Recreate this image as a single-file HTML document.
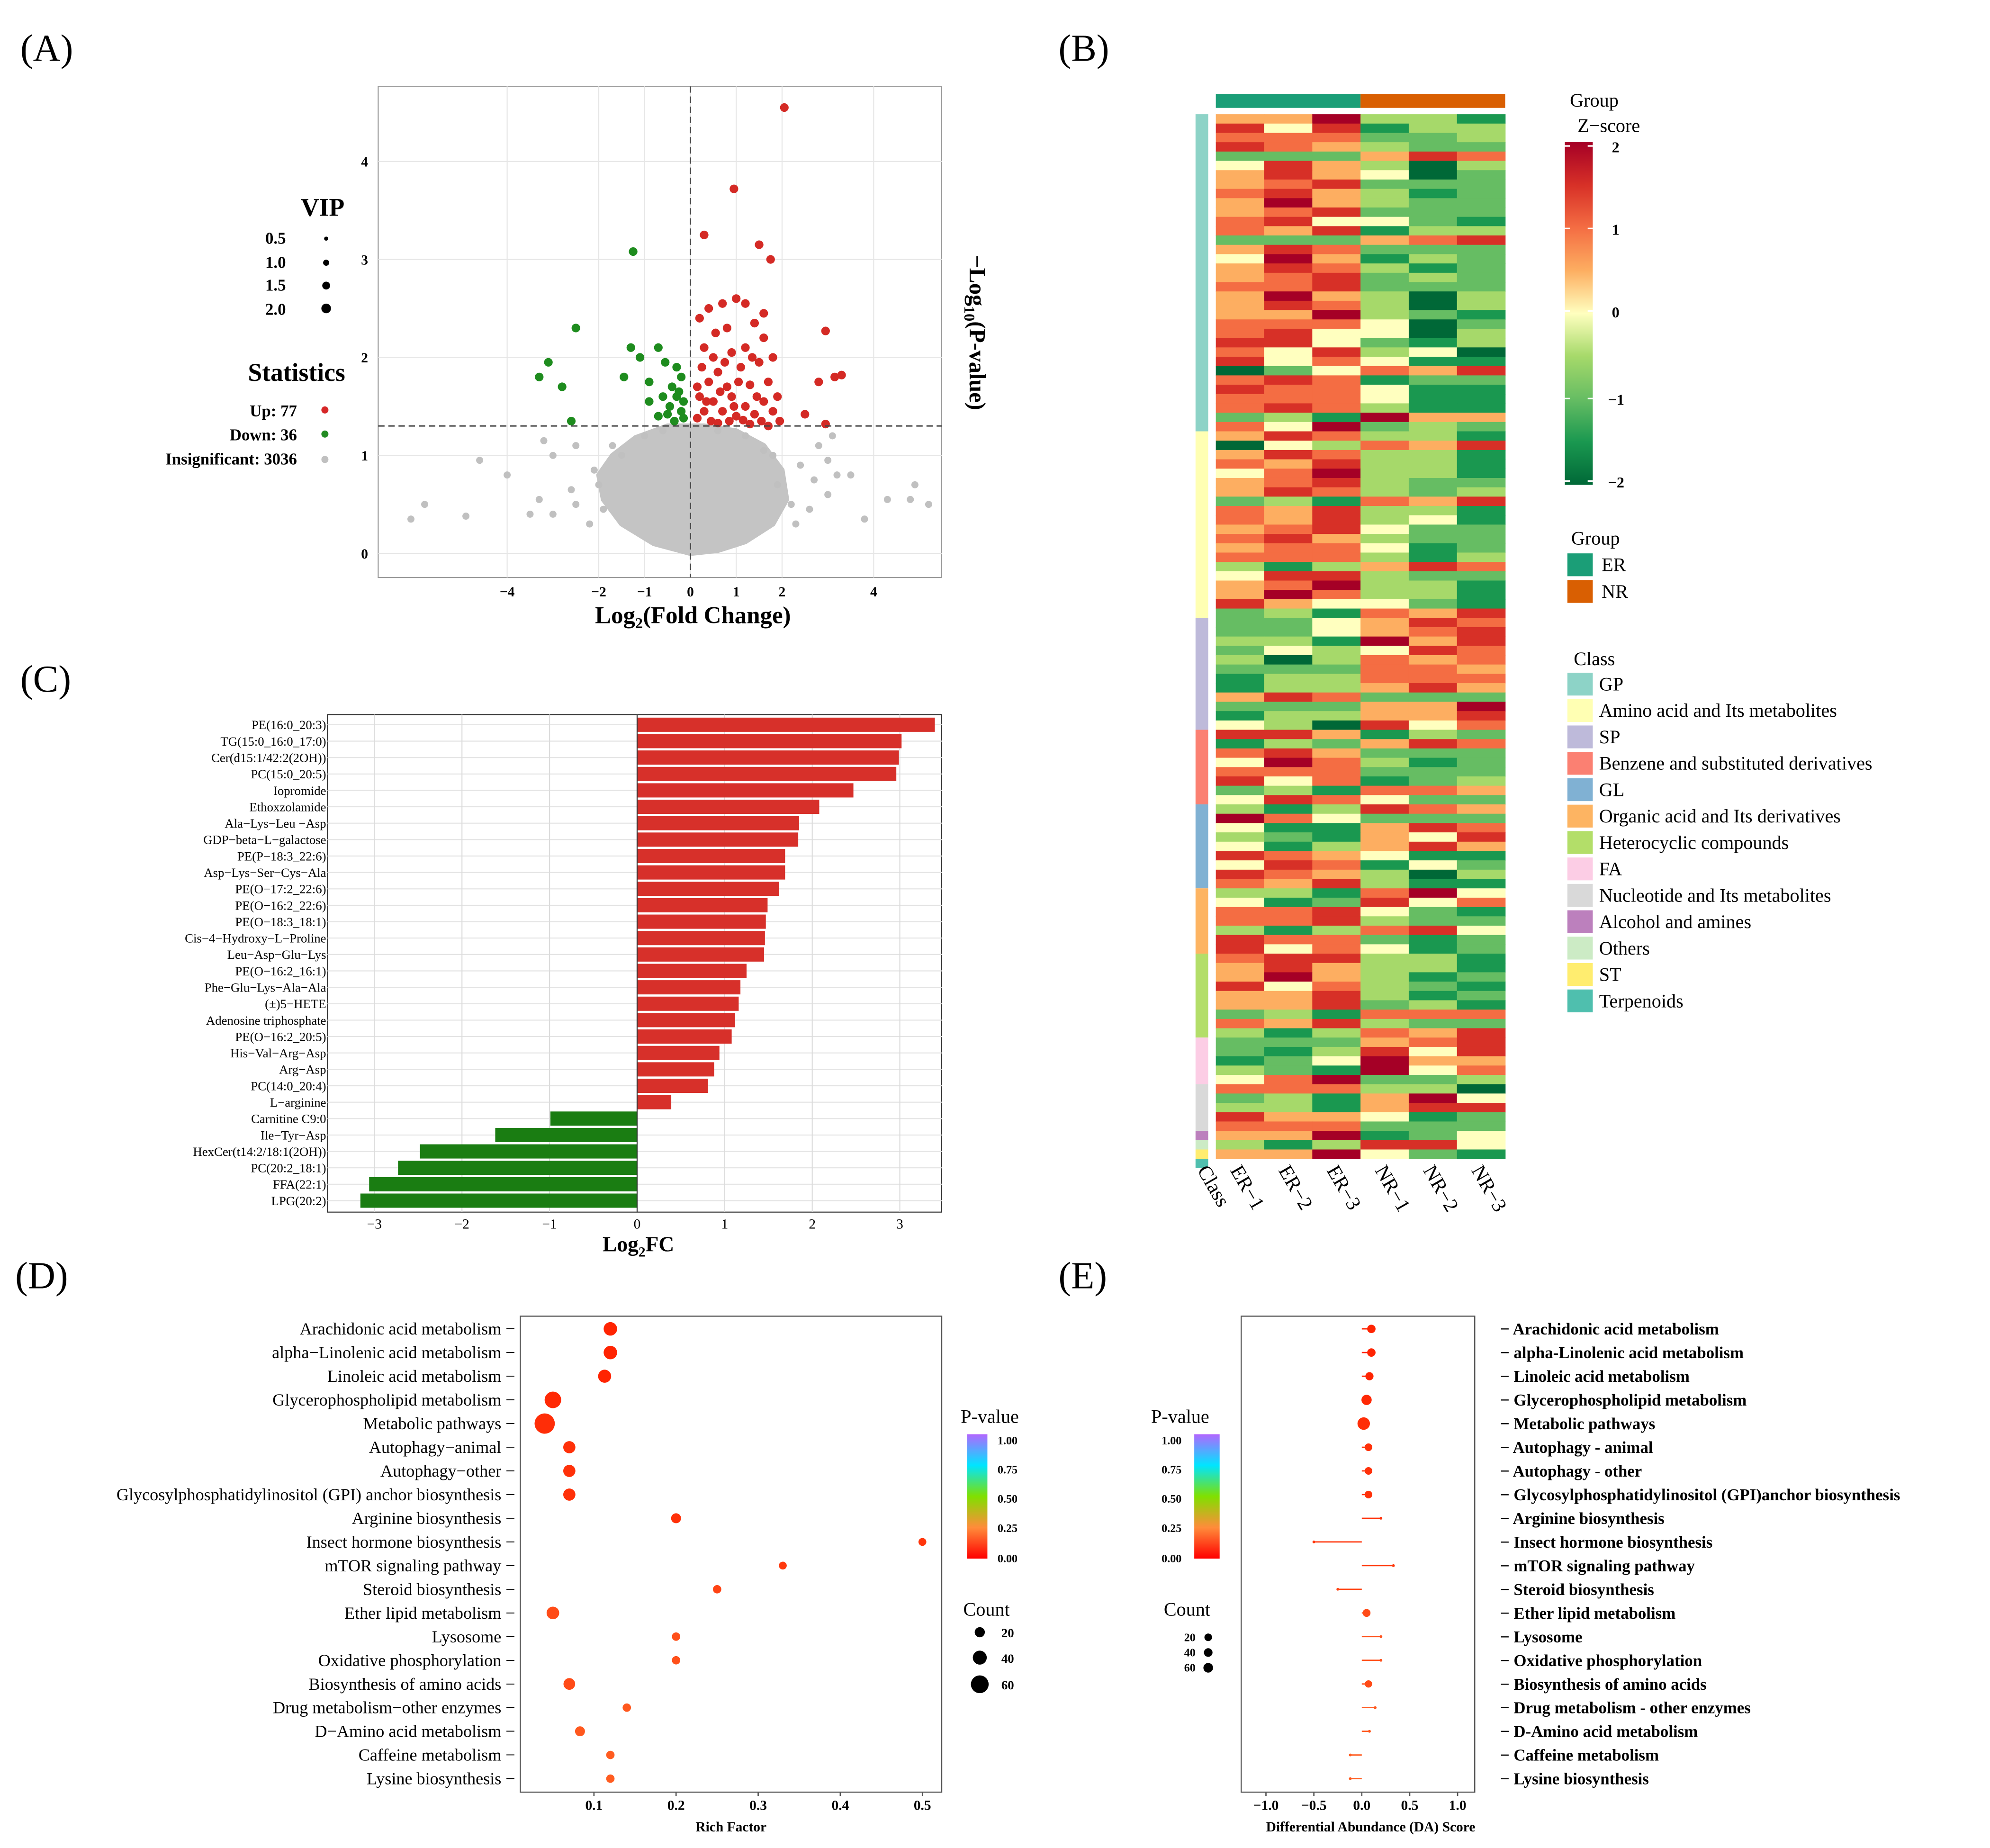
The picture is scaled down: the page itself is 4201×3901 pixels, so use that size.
<!DOCTYPE html>
<html><head><meta charset="utf-8">
<style>
html,body{margin:0;padding:0;background:#fff;}
svg{display:block;font-family:"Liberation Serif",serif;}
</style></head>
<body>
<svg id="fig" xmlns="http://www.w3.org/2000/svg" width="4201" height="3901" viewBox="0 0 1568 1456" preserveAspectRatio="none">
<defs>
<linearGradient id="zgrad" x1="0" y1="0" x2="0" y2="1">
<stop offset="0" stop-color="#a50026"/><stop offset="0.125" stop-color="#d73027"/><stop offset="0.25" stop-color="#f46d43"/><stop offset="0.375" stop-color="#fdae61"/><stop offset="0.5" stop-color="#ffffbf"/><stop offset="0.625" stop-color="#a6d96a"/><stop offset="0.75" stop-color="#66bd63"/><stop offset="0.875" stop-color="#1a9850"/><stop offset="1" stop-color="#006837"/>
</linearGradient>
<linearGradient id="pgrad" x1="0" y1="0" x2="0" y2="1">
<stop offset="0" stop-color="#b266ff"/><stop offset="0.25" stop-color="#00e5ff"/><stop offset="0.5" stop-color="#80e000"/><stop offset="0.75" stop-color="#ff8c3a"/><stop offset="1" stop-color="#ff0000"/>
</linearGradient>
</defs>
<g font-size="30" fill="#000">
<text x="16" y="48">(A)</text>
<text x="834" y="48">(B)</text>
<text x="16" y="545">(C)</text>
<text x="12" y="1015">(D)</text>
<text x="834" y="1015">(E)</text>
</g>
<g font-weight="bold">
<text x="237" y="170" font-size="20">VIP</text>
<text x="209" y="192" font-size="13">0.5</text><circle cx="257" cy="188" r="1.6"/>
<text x="209" y="211" font-size="13">1.0</text><circle cx="257" cy="207" r="2.4"/>
<text x="209" y="229" font-size="13">1.5</text><circle cx="257" cy="225" r="3.1"/>
<text x="209" y="248" font-size="13">2.0</text><circle cx="257" cy="243" r="3.8"/>
</g>
<g font-weight="bold" text-anchor="end">
<text x="272" y="300" font-size="20">Statistics</text>
<text x="234" y="328" font-size="13">Up: 77</text><circle cx="256" cy="323" r="2.8" fill="#d62728"/>
<text x="234" y="347" font-size="13">Down: 36</text><circle cx="256" cy="342" r="2.8" fill="#228b22"/>
<text x="234" y="366" font-size="13">Insignificant: 3036</text><circle cx="256" cy="362" r="2.8" fill="#c0c0c0"/>
</g>
<g id="panelA"></g>
<text x="546" y="491" font-size="19" font-weight="bold" text-anchor="middle">Log<tspan font-size="12" dy="4">2</tspan><tspan dy="-4">(Fold Change)</tspan></text>
<text transform="translate(764,262) rotate(90)" font-size="18" font-weight="bold" text-anchor="middle">−Log<tspan font-size="12" dy="4">10</tspan><tspan dy="-4">(P-value)</tspan></text>
<g font-size="15">
<text x="1237" y="84">Group</text>
<text x="1243" y="104">Z−score</text>
<rect x="1233" y="112" width="22" height="270" fill="url(#zgrad)"/>
<g stroke="#fff" stroke-width="1.2"><line x1="1233" y1="115" x2="1237" y2="115"/><line x1="1251" y1="115" x2="1255" y2="115"/><line x1="1233" y1="180" x2="1237" y2="180"/><line x1="1251" y1="180" x2="1255" y2="180"/><line x1="1233" y1="245" x2="1237" y2="245"/><line x1="1251" y1="245" x2="1255" y2="245"/><line x1="1233" y1="314" x2="1237" y2="314"/><line x1="1251" y1="314" x2="1255" y2="314"/><line x1="1233" y1="379" x2="1237" y2="379"/><line x1="1251" y1="379" x2="1255" y2="379"/></g>
<g font-size="12" font-weight="bold"><text x="1270" y="120">2</text><text x="1270" y="185">1</text><text x="1270" y="250">0</text><text x="1267" y="319">−1</text><text x="1267" y="384">−2</text></g>
<text x="1238" y="429">Group</text>
<rect x="1235" y="436" width="20" height="18" fill="#1b9e77"/><text x="1262" y="450">ER</text>
<rect x="1235" y="457" width="20" height="18" fill="#d95f02"/><text x="1262" y="471">NR</text>
<text x="1240" y="524">Class</text>
</g>
<g id="classLegend" font-size="15"></g>
<g id="panelB"></g>
<g id="panelC"></g>
<text x="503" y="986" font-size="17" font-weight="bold" text-anchor="middle">Log<tspan font-size="11" dy="4">2</tspan><tspan dy="-4">FC</tspan></text>
<g id="panelD"></g>
<text x="576" y="1443" font-size="11" font-weight="bold" text-anchor="middle">Rich Factor</text>
<g>
<text x="757" y="1121" font-size="15">P-value</text>
<rect x="762" y="1130" width="16" height="98" fill="url(#pgrad)"/>
<g font-size="9" font-weight="bold"><text x="786" y="1138">1.00</text><text x="786" y="1161">0.75</text><text x="786" y="1184">0.50</text><text x="786" y="1207">0.25</text><text x="786" y="1231">0.00</text></g>
<text x="759" y="1273" font-size="15">Count</text>
<circle cx="772" cy="1286" r="4"/><circle cx="772" cy="1306" r="5.5"/><circle cx="772" cy="1327" r="7"/>
<g font-size="10" font-weight="bold"><text x="789" y="1290">20</text><text x="789" y="1310">40</text><text x="789" y="1331">60</text></g>
</g>
<g id="panelE"></g>
<text x="1080" y="1443" font-size="11" font-weight="bold" text-anchor="middle">Differential Abundance (DA) Score</text>
<g>
<text x="907" y="1121" font-size="15">P-value</text>
<rect x="941" y="1130" width="20" height="98" fill="url(#pgrad)"/>
<g font-size="9" font-weight="bold" text-anchor="end"><text x="931" y="1138">1.00</text><text x="931" y="1161">0.75</text><text x="931" y="1184">0.50</text><text x="931" y="1207">0.25</text><text x="931" y="1231">0.00</text></g>
<text x="917" y="1273" font-size="15">Count</text>
<circle cx="952" cy="1290" r="3"/><circle cx="952" cy="1302" r="3.4"/><circle cx="952" cy="1314" r="3.8"/>
<g font-size="9" font-weight="bold" text-anchor="end"><text x="942" y="1293">20</text><text x="942" y="1305">40</text><text x="942" y="1317">60</text></g>
</g>
</svg>
<script>
const upLfc=[2.05,0.95,0.3,1.5,1.75,0.4,0.7,1.0,1.2,1.6,0.2,0.55,0.8,1.4,1.6,2.95,0.3,0.5,0.9,1.2,1.8,0.25,0.6,1.1,1.5,0.4,0.8,1.3,1.7,2.8,3.3,3.15,0.2,0.5,0.9,1.2,1.6,1.9,0.3,0.7,1.0,1.4,1.8,2.5,0.15,0.45,0.85,1.15,1.55,1.95,2.95,0.6,1.3,0.35,0.65,1.05,1.45,0.75,1.35,0.95,1.7,0.15];
const upP=[4.55,3.72,3.25,3.15,3.0,2.5,2.55,2.6,2.55,2.45,2.4,2.25,2.3,2.35,2.2,2.27,2.1,2.0,2.05,2.1,2.0,1.9,1.85,1.9,1.95,1.75,1.7,1.72,1.75,1.75,1.82,1.8,1.6,1.55,1.6,1.5,1.55,1.6,1.45,1.45,1.4,1.42,1.45,1.42,1.38,1.35,1.35,1.36,1.35,1.35,1.32,1.33,1.32,1.55,1.65,1.75,1.6,1.95,2.0,1.5,1.3,1.7];
const downLfc=[-1.25,-2.5,-3.1,-3.3,-2.8,-2.6,-1.3,-1.1,-0.7,-0.55,-0.3,-1.45,-0.9,-0.4,-0.2,-0.6,-0.3,-0.9,-0.45,-0.2,-0.7,-0.35,-0.15,-0.15,-0.25,-0.5];
const downP=[3.08,2.3,1.95,1.8,1.7,1.35,2.1,2.0,2.1,1.95,1.9,1.8,1.75,1.7,1.8,1.6,1.6,1.55,1.5,1.45,1.4,1.35,1.38,1.55,1.65,1.42];
const insLfc=[-4.9,-5.8,-6.1,-4.6,-4.0,-3.3,-3.0,-2.5,-3.5,-3.0,-3.2,-2.5,3.0,3.2,3.5,3.0,4.3,4.8,4.9,5.2,3.8,2.6,2.2,3.1,2.8,-2.2,-2.0,2.4,-1.9,1.9,-1.5,1.6,-1.0,1.2,-0.6,0.6,-2.6,-2.1,2.3,2.7,-1.7,1.8];
const insP=[0.38,0.5,0.35,0.95,0.8,0.55,0.4,0.5,0.4,1.0,1.15,1.1,0.95,0.8,0.8,0.6,0.55,0.55,0.7,0.5,0.35,0.45,0.5,1.2,1.1,0.3,0.7,0.9,0.45,0.7,1.0,1.05,1.2,1.2,1.25,1.25,0.65,0.85,0.3,0.75,1.1,1.0];
const cloudLfc=[0.0,-0.8,-1.5,-1.9,-2.0,-1.7,-1.2,-0.5,0.3,1.0,1.6,2.0,2.1,1.8,1.2,0.6];
const cloudP=[0.0,0.1,0.3,0.55,0.8,1.0,1.18,1.3,1.3,1.25,1.1,0.85,0.55,0.3,0.12,0.03];
const volXTicks=[-4,-2,-1,0,1,2,4];
const volXTickLabels=["−4","−2","−1","0","1","2","4"];
const volYTicks=[0,1,2,3,4];
const classNames=["GP","Amino acid and Its metabolites","SP","Benzene and substituted derivatives","GL","Organic acid and Its derivatives","Heterocyclic compounds","FA","Nucleotide and Its metabolites","Alcohol and amines","Others","ST","Terpenoids"];
const classColors=["#8dd3c7","#ffffb3","#bebada","#fb8072","#80b1d3","#fdb462","#b3de69","#fccde5","#d9d9d9","#bc80bd","#ccebc5","#ffed6f","#4fbfae"];
const classCounts=[34,20,12,8,9,7,9,5,5,1,1,1,1];
const sampleNames=["ER−1","ER−2","ER−3","NR−1","NR−2","NR−3"];
const heatRows=["558331","747133","666223","765322","222576","475303","575402","567222","675312","585322","567222","674421","657133","222567","576222","485132","576312","567232","667222","585303","576303","558321","666402","674403","774213","647340","746411","024657","676122","766411","666411","676311","231855","648232",
"576331","043657","576331","657331","468331","567322","576323","231657","657331","657341","567422","675322","566412","666313","313576","477322","568331","586331","754421","231657",
"224576","224567","331857","243476","303656","222665","133666","133575","576222","222558","133557","430746",
"775132","132576","675222","486312","666222","746123","231665","476422",
"313765","864222","411576","321547","413575","765411","476142","765303","657311",
"331684","412746","667421","667322","313674","766212","746412",
"677331","575331","585312","746321","557312","557231","231666","657322","313657",
"222567","213747","124855","321846",
"468223","666330","231584","331577","755412",
"666222","558124","313774","558421"];
const barNames=["PE(16:0_20:3)","TG(15:0_16:0_17:0)","Cer(d15:1/42:2(2OH))","PC(15:0_20:5)","Iopromide","Ethoxzolamide","Ala−Lys−Leu −Asp","GDP−beta−L−galactose","PE(P−18:3_22:6)","Asp−Lys−Ser−Cys−Ala","PE(O−17:2_22:6)","PE(O−16:2_22:6)","PE(O−18:3_18:1)","Cis−4−Hydroxy−L−Proline","Leu−Asp−Glu−Lys","PE(O−16:2_16:1)","Phe−Glu−Lys−Ala−Ala","(±)5−HETE","Adenosine triphosphate","PE(O−16:2_20:5)","His−Val−Arg−Asp","Arg−Asp","PC(14:0_20:4)","L−arginine","Carnitine C9:0","Ile−Tyr−Asp","HexCer(t14:2/18:1(2OH))","PC(20:2_18:1)","FFA(22:1)","LPG(20:2)"];
const barValues=[3.4,3.02,2.99,2.96,2.47,2.08,1.85,1.84,1.69,1.69,1.62,1.49,1.47,1.46,1.45,1.25,1.18,1.16,1.12,1.08,0.94,0.88,0.81,0.39,-0.99,-1.62,-2.48,-2.73,-3.06,-3.16];
const barTicks=[-3,-2,-1,0,1,2,3];
const pathways=["Arachidonic acid metabolism","alpha−Linolenic acid metabolism","Linoleic acid metabolism","Glycerophospholipid metabolism","Metabolic pathways","Autophagy−animal","Autophagy−other","Glycosylphosphatidylinositol (GPI) anchor biosynthesis","Arginine biosynthesis","Insect hormone biosynthesis","mTOR signaling pathway","Steroid biosynthesis","Ether lipid metabolism","Lysosome","Oxidative phosphorylation","Biosynthesis of amino acids","Drug metabolism−other enzymes","D−Amino acid metabolism","Caffeine metabolism","Lysine biosynthesis"];
const pathwaysE=["Arachidonic acid metabolism","alpha-Linolenic acid metabolism","Linoleic acid metabolism","Glycerophospholipid metabolism","Metabolic pathways","Autophagy - animal","Autophagy - other","Glycosylphosphatidylinositol (GPI)anchor biosynthesis","Arginine biosynthesis","Insect hormone biosynthesis","mTOR signaling pathway","Steroid biosynthesis","Ether lipid metabolism","Lysosome","Oxidative phosphorylation","Biosynthesis of amino acids","Drug metabolism - other enzymes","D-Amino acid metabolism","Caffeine metabolism","Lysine biosynthesis"];
const richFactor=[0.12,0.12,0.113,0.05,0.04,0.07,0.07,0.07,0.2,0.5,0.33,0.25,0.05,0.2,0.2,0.07,0.14,0.083,0.12,0.12];
const pathCount=[22,22,20,40,68,16,16,16,8,3,3,4,18,4,4,14,4,8,4,4];
const pathP=[0.01,0.01,0.01,0.02,0.03,0.04,0.04,0.04,0.04,0.05,0.06,0.08,0.1,0.11,0.11,0.1,0.13,0.13,0.14,0.14];
const daScore=[0.1,0.1,0.08,0.05,0.02,0.07,0.07,0.07,0.2,-0.5,0.33,-0.25,0.05,0.2,0.2,0.07,0.14,0.08,-0.12,-0.12];
const richTicks=[0.1,0.2,0.3,0.4,0.5];
const daTicks=[-1.0,-0.5,0.0,0.5,1.0];
const daTickLabels=["−1.0","−0.5","0.0","0.5","1.0"];

const NS='http://www.w3.org/2000/svg';
function mk(tag,attrs,parent){const e=document.createElementNS(NS,tag);for(const k in attrs)e.setAttribute(k,attrs[k]);parent.appendChild(e);return e;}
function tx(str,attrs,parent){const e=mk('text',attrs,parent);e.textContent=str;return e;}

(function(){
const g=document.getElementById('panelA');
const X0=298,X1=742,Y0=68,Y1=455;
const sx=v=>544+v*36.1, sy=v=>436-v*77.2;
const bg=mk('rect',{x:X0,y:Y0,width:X1-X0,height:Y1-Y0,fill:'#fff',stroke:'#999','stroke-width':0.8},g);


for(const t of volXTicks){const l=mk('line',{x1:sx(t),x2:sx(t),y1:Y0,y2:Y1,stroke:'#e6e6e6','stroke-width':0.8},g);

}
for(const t of volYTicks){const l=mk('line',{x1:X0,x2:X1,y1:sy(t),y2:sy(t),stroke:'#e6e6e6','stroke-width':0.8},g);


const lb=tx(String(t),{x:X0-8,y:sy(t)+4,'font-size':11,'font-weight':'bold','text-anchor':'end'},g);

}
volXTicks.forEach((t,i)=>{const lb=tx(volXTickLabels[i],{x:sx(t),y:Y1+15,'font-size':11,'font-weight':'bold','text-anchor':'middle'},g);

});
const cloud=mk('polygon',{points:cloudLfc.map((v,i)=>sx(v)+','+sy(cloudP[i])).join(' '),fill:'#c4c4c4',stroke:'#c4c4c4','stroke-width':4,'stroke-linejoin':'round'},g);


insLfc.forEach((v,i)=>{const c=mk('circle',{cx:sx(v),cy:sy(insP[i]),r:2.8,fill:'#c0c0c0'},g);

});
downLfc.forEach((v,i)=>{const c=mk('circle',{cx:sx(v),cy:sy(downP[i]),r:3.4,fill:'#1e8c1e'},g);

});
upLfc.forEach((v,i)=>{const c=mk('circle',{cx:sx(v),cy:sy(upP[i]),r:3.4,fill:'#d42a25'},g);

});
const h=mk('line',{x1:X0,x2:X1,y1:sy(1.3),y2:sy(1.3),stroke:'#444','stroke-dasharray':'5,3','stroke-width':1},g);


const v=mk('line',{x1:sx(0),x2:sx(0),y1:Y0,y2:Y1,stroke:'#444','stroke-dasharray':'5,3','stroke-width':1},g);


})();

(function(){
const g=document.getElementById('panelB');
const HX=958,HY=90,HW=228,HH=823;
const nRows=heatRows.length, rh=HH/nRows, cw=HW/6;
const zc=["#006837","#1a9850","#66bd63","#a6d96a","#ffffbf","#fdae61","#f46d43","#d73027","#a50026"];
const er=mk('rect',{x:HX,y:74,width:HW/2,height:11,fill:'#1b9e77'},g);


const nr=mk('rect',{x:HX+HW/2,y:74,width:HW/2,height:11,fill:'#d95f02'},g);


heatRows.forEach((row,r)=>{for(let c=0;c<6;c++){const cell=mk('rect',{x:HX+c*cw,y:HY+r*rh,width:cw+0.3,height:rh+0.3,fill:zc[+row[c]]},g);

}});
let acc=0;
classCounts.forEach((n,i)=>{const s=mk('rect',{x:942,y:HY+acc*rh,width:10,height:n*rh,fill:classColors[i]},g);


acc+=n;});
const cl=tx('Class',{transform:'translate(943,922) rotate(60)','font-size':16},g);


sampleNames.forEach((s,i)=>{const t=tx(s,{transform:`translate(${HX+cw*i+cw/2-8},922) rotate(60)`,'font-size':16},g);

});
const lg=document.getElementById('classLegend');
classNames.forEach((n,i)=>{const y=530+i*20.8;
const b=mk('rect',{x:1235,y:y,width:20,height:18,fill:classColors[i]},lg);


const t=tx(n,{x:1260,y:y+14},lg);

});
})();

(function(){
const g=document.getElementById('panelC');
const X0=258,X1=742,Y0=563,Y1=955;
const sx=v=>502+v*69, rowY=i=>571+i*12.93;
const bg=mk('rect',{x:X0,y:Y0,width:X1-X0,height:Y1-Y0,fill:'#fff',stroke:'#333','stroke-width':0.8},g);


barNames.forEach((n,i)=>{const l=mk('line',{x1:X0,x2:X1,y1:rowY(i),y2:rowY(i),stroke:'#e3e3e3','stroke-width':0.8},g);

});
barTicks.forEach(t=>{const l=mk('line',{x1:sx(t),x2:sx(t),y1:Y0,y2:Y1,stroke:'#dcdcdc','stroke-width':0.8},g);


const lb=tx(t<0?'−'+(-t):String(t),{x:sx(t),y:Y1+13,'font-size':11,'text-anchor':'middle'},g);

});
barNames.forEach((n,i)=>{const v=barValues[i];
const b=mk('rect',{x:Math.min(sx(0),sx(v)),y:rowY(i)-5.6,width:Math.abs(sx(v)-sx(0)),height:11.2,fill:v>0?'#d7302a':'#1a7d12'},g);


const t=tx(n,{x:X0-1,y:rowY(i)+3.5,'font-size':10,'text-anchor':'end'},g);

});
const z=mk('line',{x1:sx(0),x2:sx(0),y1:Y0,y2:Y1,stroke:'#333','stroke-width':0.8},g);


})();

function pColor(p){const t=Math.min(1,p/0.25);const gch=Math.round(0x20+t*(0x8c-0x20));return `rgb(255,${gch},${Math.round(t*58)})`;}
const rowYD=i=>1047+i*18.65;

(function(){
const g=document.getElementById('panelD');
const X0=410,X1=742,Y0=1037,Y1=1412;
const sx=v=>403.3+v*647;
const bg=mk('rect',{x:X0,y:Y0,width:X1-X0,height:Y1-Y0,fill:'#fff',stroke:'#555','stroke-width':0.9},g);


richTicks.forEach(t=>{const lb=tx(String(t),{x:sx(t),y:Y1+14,'font-size':11,'font-weight':'bold','text-anchor':'middle'},g);


const tk=mk('line',{x1:sx(t),x2:sx(t),y1:Y1,y2:Y1+3,stroke:'#555'},g);

});
pathways.forEach((n,i)=>{const y=rowYD(i);
const t=tx(n+' −',{x:X0-4,y:y+4.5,'font-size':13.5,'text-anchor':'end'},g);


const c=mk('circle',{cx:sx(richFactor[i]),cy:y,r:1.8+Math.sqrt(pathCount[i])*0.75,fill:pColor(pathP[i])},g);

});
})();

(function(){
const g=document.getElementById('panelE');
const X0=978,X1=1162,Y0=1037,Y1=1412;
const sx=v=>1073+v*75.5;
const bg=mk('rect',{x:X0,y:Y0,width:X1-X0,height:Y1-Y0,fill:'#fff',stroke:'#555','stroke-width':0.9},g);


daTicks.forEach((t,i)=>{const lb=tx(daTickLabels[i],{x:sx(t),y:Y1+14,'font-size':11,'font-weight':'bold','text-anchor':'middle'},g);


const tk=mk('line',{x1:sx(t),x2:sx(t),y1:Y1,y2:Y1+3,stroke:'#555'},g);

});
pathwaysE.forEach((n,i)=>{const y=rowYD(i);
const t=tx('− '+n,{x:X1+20,y:y+4.5,'font-size':13,'font-weight':'bold'},g);


const l=mk('line',{x1:sx(0),x2:sx(daScore[i]),y1:y,y2:y,stroke:pColor(pathP[i]),'stroke-width':1},g);


const c=mk('circle',{cx:sx(daScore[i]),cy:y,r:pathCount[i]>10?1.2+Math.sqrt(pathCount[i])*0.45:1.1,fill:pColor(pathP[i])},g);

});
})();
</script>
</body></html>
